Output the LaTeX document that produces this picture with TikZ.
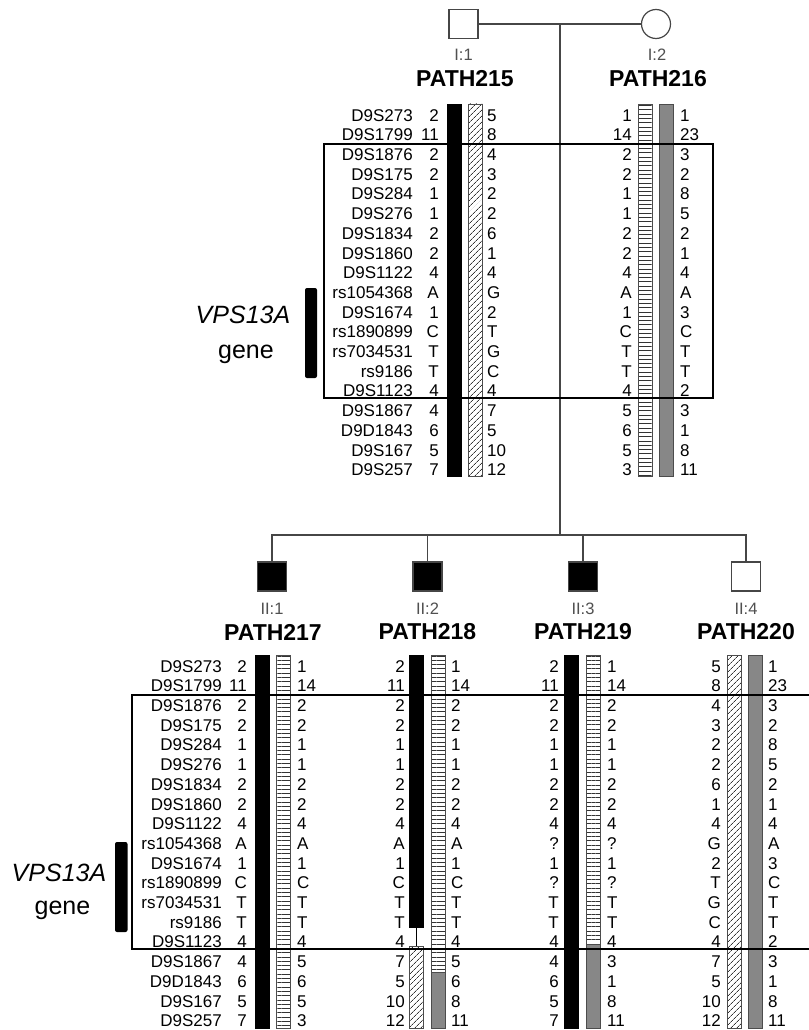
\documentclass[tikz,border=0pt]{standalone}
\usepackage{fontspec}
\setmainfont{Liberation Sans}
\usetikzlibrary{patterns.meta}
\definecolor{pedline}{RGB}{70,70,70}
\definecolor{bargrey}{RGB}{135,135,135}
\definecolor{lbl}{RGB}{80,80,80}
\tikzset{
  mk/.style={inner sep=0pt, text height=12.2pt, text depth=0pt, font=\fontsize{17}{17}\selectfont},
  ttl/.style={font=\fontsize{23}{23}\selectfont\bfseries, inner sep=0pt},
  gen/.style={font=\fontsize{16.5}{16.5}\selectfont, text=lbl, inner sep=0pt},
  male/.style={draw=pedline, line width=1.2pt, minimum size=29pt, inner sep=0pt, fill=white},
  aff/.style={male, fill=black},
  female/.style={circle, draw=pedline, line width=1.2pt, minimum size=29pt, inner sep=0pt, fill=white},
  ped/.style={draw=pedline, line width=1.2pt},
  hapframe/.style={draw=black, line width=2pt},
  hb/.style={fill=black, draw=black, line width=0.5pt},
  hh/.style={draw=black!70, line width=0.7pt, pattern={Lines[angle=45,distance=4pt,line width=0.65pt]}, pattern color=black!80},
  hs/.style={draw=black!70, line width=0.7pt, pattern={Lines[angle=0,distance=4.3pt,line width=0.75pt]}, pattern color=black!80},
  hg/.style={draw=black!70, line width=0.7pt, fill=bargrey},
  genebar/.style={fill=black, rounded corners=2pt},
  gname/.style={font=\fontsize{25}{25}\selectfont, inner sep=0pt, anchor=base},
}
\newcommand\alleles[5]{%
  \foreach \v [count=\i from 0] in {#5} {\node[mk, anchor=#3] (#1\i) at (#2, {#4+19.7*\i}) {\v};}}
\begin{document}
\begin{tikzpicture}[x=1pt, y=-1pt]
\useasboundingbox (0,0) rectangle (808,1030);
\fill[white] (0,0) rectangle (808,1030);

% ---------- pedigree ----------
\node[male] (I1) at (463.5,24) {};
\node[female] (I2) at (656,24) {};
\draw[ped] (I1.east) -- (I2.west);
\coordinate (mate) at (560,24);
\coordinate (sib) at (560,535);
\draw[ped] (mate) -- (sib);
\node[gen] (g11) at (463.5,55) {I:1};
\node[gen] (g12) at (657,55) {I:2};
\node[ttl] (t215) at (465,79) {PATH215};
\node[ttl] (t216) at (658,79) {PATH216};

\node[aff] (II1) at (272,576.5) {};
\node[aff] (II2) at (427.5,576.5) {};
\node[aff] (II3) at (583,576.5) {};
\node[male] (II4) at (746,576.5) {};
\draw[ped] (II1.north) |- (sib);
\draw[ped] (II2.north) |- (sib);
\draw[ped] (II3.north) |- (sib);
\draw[ped] (II4.north) |- (sib);
\node[gen] (g21) at (272,609) {II:1};
\node[gen] (g22) at (427.5,609) {II:2};
\node[gen] (g23) at (583,609) {II:3};
\node[gen] (g24) at (746,609) {II:4};
\node[ttl] (t217) at (273,632) {PATH217};
\node[ttl] (t218) at (427.5,632) {PATH218};
\node[ttl] (t219) at (583,632) {PATH219};
\node[ttl] (t220) at (746,632) {PATH220};

% ---------- bars: top generation ----------
\path[hb] (447,104) rectangle (461,476);
\path[hh] (468,104) rectangle (482,476);
\path[hs] (638,104) rectangle (652,476);
\path[hg] (659,104) rectangle (673,476);

% ---------- bars: second generation ----------
\path[hb] (255.5,655) rectangle (269.5,1028);
\path[hs] (276,655) rectangle (290,1028);

\path[hb] (409,655) rectangle (423,927);
\draw[black, line width=1pt] (416,927) -- (416,946);
\draw[black, line width=0.8pt] (411,946) -- (421,946);
\path[hh] (409,946) rectangle (423,1028);
\path[hs] (431,655) rectangle (445,972);
\path[hg] (431,972) rectangle (445,1028);

\path[hb] (564,655) rectangle (578,1028);
\path[hs] (586,655) rectangle (600,944);
\path[hg] (586,944) rectangle (600,1028);

\path[hh] (727,655) rectangle (741,1028);
\path[hg] (748,655) rectangle (762,1028);

% ---------- frames ----------
\draw[hapframe] (324,143.5) rectangle (713,398);
\draw[hapframe] (132,695) rectangle (812,949);

% ---------- gene marks ----------
\path[genebar] (305,288) rectangle (317,378);
\node[gname, font=\fontsize{25}{25}\selectfont\itshape] (vps1) at (243,323) {VPS13A};
\node[gname] (gene1) at (246,358) {gene};
\path[genebar] (115,842) rectangle (127.5,932);
\node[gname, font=\fontsize{25}{25}\selectfont\itshape] (vps2) at (59,881) {VPS13A};
\node[gname] (gene2) at (62.5,914) {gene};

% ---------- marker names ----------
\alleles{mt}{413}{east}{115}{D9S273,D9S1799,D9S1876,D9S175,D9S284,D9S276,D9S1834,D9S1860,D9S1122,rs1054368,D9S1674,rs1890899,rs7034531,rs9186,D9S1123,D9S1867,D9D1843,D9S167,D9S257}
\alleles{mb}{222}{east}{666}{D9S273,D9S1799,D9S1876,D9S175,D9S284,D9S276,D9S1834,D9S1860,D9S1122,rs1054368,D9S1674,rs1890899,rs7034531,rs9186,D9S1123,D9S1867,D9D1843,D9S167,D9S257}

% ---------- alleles: top ----------
\alleles{a215l}{439}{east}{115}{2,11,2,2,1,1,2,2,4,A,1,C,T,T,4,4,6,5,7}
\alleles{a215r}{487}{west}{115}{5,8,4,3,2,2,6,1,4,G,2,T,G,C,4,7,5,10,12}
\alleles{a216l}{632}{east}{115}{1,14,2,2,1,1,2,2,4,A,1,C,T,T,4,5,6,5,3}
\alleles{a216r}{680}{west}{115}{1,23,3,2,8,5,2,1,4,A,3,C,T,T,2,3,1,8,11}

% ---------- alleles: bottom ----------
\alleles{a217l}{247}{east}{666}{2,11,2,2,1,1,2,2,4,A,1,C,T,T,4,4,6,5,7}
\alleles{a217r}{297}{west}{666}{1,14,2,2,1,1,2,2,4,A,1,C,T,T,4,5,6,5,3}
\alleles{a218l}{405}{east}{666}{2,11,2,2,1,1,2,2,4,A,1,C,T,T,4,7,5,10,12}
\alleles{a218r}{451}{west}{666}{1,14,2,2,1,1,2,2,4,A,1,C,T,T,4,5,6,8,11}
\alleles{a219l}{559}{east}{666}{2,11,2,2,1,1,2,2,4,?,1,?,T,T,4,4,6,5,7}
\alleles{a219r}{607}{west}{666}{1,14,2,2,1,1,2,2,4,?,1,?,T,T,4,3,1,8,11}
\alleles{a220l}{721}{east}{666}{5,8,4,3,2,2,6,1,4,G,2,T,G,C,4,7,5,10,12}
\alleles{a220r}{768}{west}{666}{1,23,3,2,8,5,2,1,4,A,3,C,T,T,2,3,1,8,11}
\end{tikzpicture}
\end{document}
